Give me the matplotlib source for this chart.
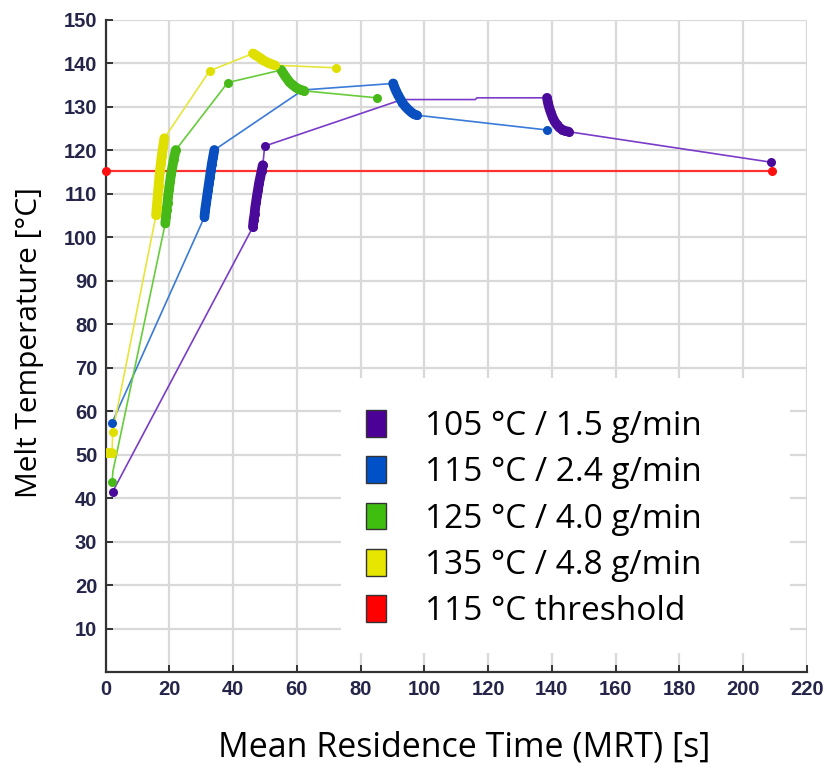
import numpy as np
import matplotlib
matplotlib.use("Agg")
import matplotlib.pyplot as plt
from matplotlib.patches import Rectangle, Patch

# series data (MRT [s], melt temperature [degC])
x_105 = [2.2, 46.2, 46.4, 46.7, 46.9, 47.2, 47.5, 47.8, 48.1, 48.5, 48.9, 49.3, 49.9,
         93.0, 116.0, 116.5, 138.5, 138.8, 139.2, 139.7, 140.2, 140.8, 141.5, 142.3,
         143.2, 144.2, 145.3, 208.7]
y_105 = [41.5, 102.4, 103.9, 105.3, 106.8, 108.2, 109.7, 111.0, 112.4, 113.8, 115.2, 116.6, 121.0,
         131.7, 131.7, 132.1, 132.1, 130.9, 129.8, 128.7, 127.7, 126.8, 126.0, 125.3,
         124.8, 124.5, 124.3, 117.3]
m_105 = [1] * 13 + [0, 0, 0] + [1] * 12
c_105 = [(1, 12), (16, 27)]

x_115 = [1.9, 31.0, 31.2, 31.5, 31.8, 32.1, 32.4, 32.7, 33.0, 33.3, 33.7, 34.1, 61.9,
         90.2, 90.6, 91.1, 91.7, 92.4, 93.1, 93.9, 94.8, 95.7, 96.6, 97.6, 138.5]
y_115 = [57.2, 104.7, 106.3, 107.8, 109.4, 110.9, 112.4, 113.9, 115.4, 116.9, 118.5, 120.1, 133.9,
         135.4, 134.6, 133.7, 132.8, 131.9, 131.0, 130.2, 129.5, 128.9, 128.4, 128.1, 124.7]
m_115 = [1] * 12 + [0] + [1] * 12
c_115 = [(1, 12), (13, 24)]

x_125 = [2.0, 2.3, 18.7, 18.9, 19.1, 19.4, 19.6, 19.9, 20.2, 20.5, 20.9, 21.4, 22.0, 38.3,
         55.1, 55.6, 56.2, 56.9, 57.6, 58.4, 59.3, 60.3, 61.4, 62.3, 85.0]
y_125 = [43.8, 46.3, 103.2, 104.8, 106.4, 108.0, 109.6, 111.2, 112.9, 114.5, 116.1, 118.1, 120.1, 135.6,
         138.5, 137.9, 137.2, 136.5, 135.8, 135.2, 134.7, 134.2, 133.9, 133.7, 132.1]
m_125 = [1, 0] + [1] * 23
c_125 = [(2, 13), (14, 24)]

x_135 = [0.4, 1.2, 2.0, 2.2, 15.8, 16.0, 16.2, 16.4, 16.6, 16.8, 17.0, 17.3, 17.6, 18.0, 18.4,
         32.6, 46.2, 46.9, 47.6, 48.4, 49.2, 50.0, 50.9, 51.9, 53.0, 72.4]
y_135 = [50.3, 50.3, 50.3, 55.3, 105.1, 106.8, 108.5, 110.2, 111.9, 113.6, 115.3, 117.0, 118.8, 120.8, 122.8,
         138.3, 142.3, 142.0, 141.7, 141.3, 140.9, 140.5, 140.2, 139.9, 139.6, 139.0]
m_135 = [1] * 26
c_135 = [(0, 3), (4, 15), (16, 25)]

x_thr = [0, 209]
y_thr = [115.2, 115.2]

labels = ["105 °C / 1.5 g/min", "115 °C / 2.4 g/min", "125 °C / 4.0 g/min",
          "135 °C / 4.8 g/min", "115 °C threshold"]
line_cols = ["#7a3cc8", "#3a7ad8", "#66cc3a", "#e6e63a"]
mark_cols = ["#4a0a9a", "#0a4fc0", "#46b818", "#e0e000"]
legend_cols = ["#4b0096", "#0050c8", "#40be10", "#e6e600", "#ff0000"]

fig = plt.figure(figsize=(8.27, 7.69), dpi=100)
ax = fig.add_axes([0.1278, 0.126, 0.8477, 0.848])
ax.set_axisbelow(True)

series = [(x_105, y_105, m_105, c_105), (x_115, y_115, m_115, c_115),
          (x_125, y_125, m_125, c_125), (x_135, y_135, m_135, c_135)]
for (xs, ys, ms, cl), lc, mc in zip(series, line_cols, mark_cols):
    ax.plot(xs, ys, color=lc, lw=1.2, zorder=3)
    xm = [a for a, k in zip(xs, ms) if k]
    ym = [b for b, k in zip(ys, ms) if k]
    ax.plot(xm, ym, 'o', color=mc, ms=6.5, mew=0, zorder=4)
    # dense runs of points read as one thick stroke
    for a, b in cl:
        ax.plot(xs[a:b], ys[a:b], color=mc, lw=7, solid_capstyle='round',
                solid_joinstyle='round', zorder=4)

ax.plot(x_thr, y_thr, color="#ff3030", lw=1.6, zorder=3)
ax.plot(x_thr, y_thr, 'o', color="#ff1010", ms=6.5, mew=0, zorder=4, clip_on=False)

ax.set_xlim(0, 220)
ax.set_ylim(0, 150)
ax.set_xticks(np.arange(0, 221, 20))
ax.set_yticks(np.arange(10, 151, 10))
ax.grid(True, color="#d9d9d9", lw=1.6)

for s in ["top", "right"]:
    ax.spines[s].set_visible(False)
for s in ["left", "bottom"]:
    ax.spines[s].set_color("#333333")
    ax.spines[s].set_linewidth(1.6)

ax.tick_params(direction='in', length=5, width=1.4, color="#333333",
               labelcolor="#25254a", labelsize=14.5, pad=6)
for lab in ax.get_xticklabels() + ax.get_yticklabels():
    lab.set_family(['Liberation Sans', 'DejaVu Sans'])
    lab.set_fontweight('bold')

ax.set_xlabel("Mean Residence Time (MRT) [s]", family="Open Sans", fontsize=24.5)
ax.xaxis.set_label_coords(0.512, -0.09)
ax.set_ylabel("Melt Temperature [°C]", family="Open Sans", fontsize=21.5)
ax.yaxis.set_label_coords(-0.088, 0.506)

# white panel behind the legend hides the grid
ax.add_patch(Rectangle((0.336, 0.029), 0.64, 0.422, transform=ax.transAxes,
                       facecolor="white", edgecolor="none", zorder=1))

handles = [Patch(facecolor=c, edgecolor="#333333", lw=1.0) for c in legend_cols]
ax.legend(handles, labels, loc="upper left", bbox_to_anchor=(0.372, 0.402),
          frameon=False, prop={'family': 'Open Sans', 'size': 24},
          handlelength=0.6, handleheight=0.85, handletextpad=1.15,
          labelspacing=0.4, borderpad=0, borderaxespad=0)

fig.savefig("out.png", dpi=100)
